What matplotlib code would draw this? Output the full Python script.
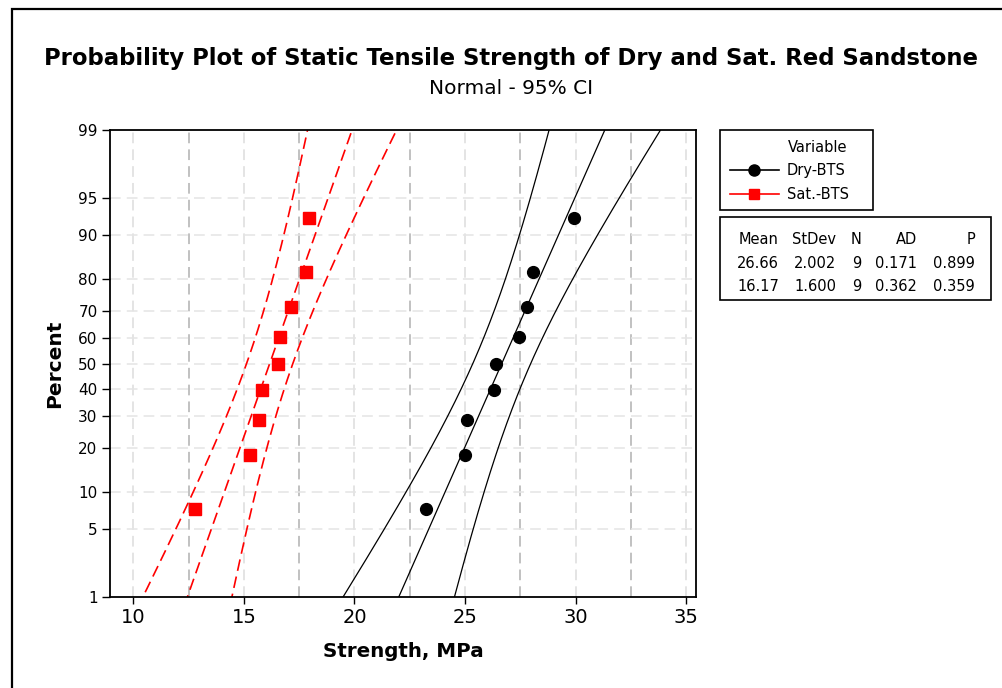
import numpy as np
import matplotlib
matplotlib.use('Agg')
import matplotlib.pyplot as plt
from matplotlib.patches import Rectangle
from matplotlib.lines import Line2D
from statistics import NormalDist

# data
percent = [7.4, 18.1, 28.7, 39.4, 50.0, 60.6, 71.3, 81.9, 92.6]     # plotting positions
dry_bts = [23.25, 24.98, 25.07, 26.33, 26.40, 27.42, 27.82, 28.07, 29.93]
sat_bts = [12.77, 15.30, 15.67, 15.83, 16.55, 16.62, 17.14, 17.80, 17.95]

series = ['Dry-BTS', 'Sat.-BTS']
means = [26.66, 16.17]
stdevs = [2.002, 1.600]
counts = [9, 9]
ad_vals = ['0.171', '0.362']
p_vals = ['0.899', '0.359']

y_ticks = [1, 5, 10, 20, 30, 40, 50, 60, 70, 80, 90, 95, 99]
x_ticks = [10, 15, 20, 25, 30, 35]

W, H = 1002, 688
nd = NormalDist()


def fwd(p):                                                   # percent -> normal score
    p = np.clip(np.asarray(p, dtype=float) / 100.0, 1e-9, 1 - 1e-9)
    return np.vectorize(nd.inv_cdf, otypes=[float])(p)


def inv(z):                                                   # normal score -> percent
    return np.vectorize(nd.cdf, otypes=[float])(np.asarray(z, dtype=float)) * 100.0


def fx(px):
    return px / W


def fy(py):
    return 1 - py / H


fig = plt.figure(figsize=(W / 100, H / 100), dpi=100)
ax = fig.add_axes([fx(110), fy(597), (696 - 110) / W, (597 - 130) / H])
ax.set_yscale('function', functions=(fwd, inv))

# grid lines
for x in np.arange(10, 36, 2.5):
    major = abs(x / 5 - round(x / 5)) < 1e-6
    ax.axvline(x, color='#dcdcdc' if major else '#b0b0b0', lw=1.1,
               ls=(0, (7, 4)), zorder=0)
for y in y_ticks[1:-1]:
    ax.axhline(y, color='#e4e4e4', lw=1.1, ls=(0, (7, 4)), zorder=0)

# fitted lines and 95% CI
pp = np.linspace(0.3, 99.7, 400)
z = fwd(pp)
styles = [dict(color='black', ls='-', lw=0.9),
          dict(color='red', ls=(0, (7, 3.5)), lw=1.2)]
for m, s, n, st in zip(means, stdevs, counts, styles):
    xfit = m + z * s
    se = s * np.sqrt(1.0 / n + z**2 / (2.0 * n))
    ax.plot(xfit, pp, **st)
    ax.plot(xfit - 1.96 * se, pp, **st)
    ax.plot(xfit + 1.96 * se, pp, **st)

ax.plot(dry_bts, percent, 'o', color='black', ms=8.5, zorder=5)
ax.plot(sat_bts, percent, 's', color='red', ms=8, zorder=5)

ax.set_xlim(8.95, 35.44)
ax.set_ylim(1, 99)
ax.set_xticks(x_ticks)
ax.set_yticks(y_ticks)
ax.set_yticklabels([str(t) for t in y_ticks])
ax.yaxis.set_minor_locator(matplotlib.ticker.NullLocator())
ax.tick_params(axis='x', labelsize=14, length=5, width=1, direction='out', pad=3)
ax.tick_params(axis='y', labelsize=11, length=6, width=1, direction='out', pad=3)
for sp in ax.spines.values():
    sp.set_linewidth(1.3)

ax.set_xlabel('Strength, MPa', fontsize=14.3, fontweight='bold', labelpad=11)
ax.set_ylabel('Percent', fontsize=14.5, fontweight='bold', labelpad=10)

# titles
fig.text(fx(511), fy(58), 'Probability Plot of Static Tensile Strength of Dry and Sat. Red Sandstone',
         ha='center', va='center', fontsize=16.4, fontweight='bold')
fig.text(fx(511), fy(88), 'Normal - 95% CI', ha='center', va='center', fontsize=14.5)

# outer frame (left and top edges visible)
fig.add_artist(Rectangle((fx(12), -0.1), 2, fy(9) + 0.1, transform=fig.transFigure,
                         fill=False, ec='black', lw=1.6))

# legend box
fig.add_artist(Rectangle((fx(720), fy(210)), (873 - 720) / W, 80 / H,
                         transform=fig.transFigure, fill=False, ec='black', lw=1.2))
fig.text(fx(818), fy(147), 'Variable', ha='center', va='center', fontsize=10.5)
leg_y = [170, 194]
leg_style = [dict(color='black', marker='o', ms=8), dict(color='red', marker='s', ms=7.5)]
for name, ly, st in zip(series, leg_y, leg_style):
    fig.add_artist(Line2D([fx(730), fx(779)], [fy(ly), fy(ly)], lw=1.2,
                          transform=fig.transFigure, color=st['color']))
    fig.add_artist(Line2D([fx(754)], [fy(ly)], lw=0, transform=fig.transFigure, **st))
    fig.text(fx(787), fy(ly), name, ha='left', va='center', fontsize=10.5)

# statistics table
fig.add_artist(Rectangle((fx(720), fy(300)), (991 - 720) / W, 83 / H,
                         transform=fig.transFigure, fill=False, ec='black', lw=1.2))
col_x = [779, 836, 861, 917, 975]
header = ['Mean', 'StDev', 'N', 'AD', 'P']
for cx, h in zip(col_x, header):
    fig.text(fx(cx), fy(240), h, ha='right', va='center', fontsize=10.5)
for i, ry in enumerate([263, 286]):
    row = [f'{means[i]:.2f}', f'{stdevs[i]:.3f}', str(counts[i]), ad_vals[i], p_vals[i]]
    for cx, v in zip(col_x, row):
        fig.text(fx(cx), fy(ry), v, ha='right', va='center', fontsize=10.5)

fig.savefig('out.png', dpi=100)
